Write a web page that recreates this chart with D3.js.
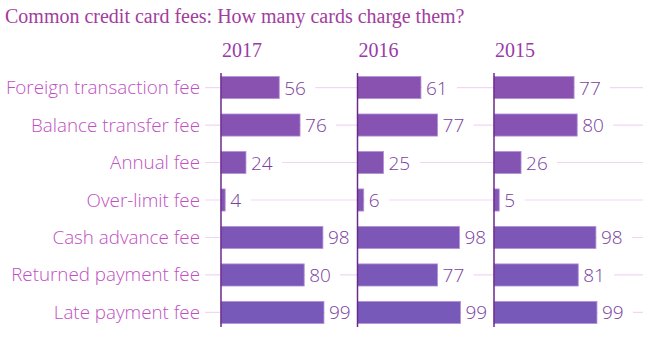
<!DOCTYPE html>
<html><head><meta charset="utf-8">
<script src="https://cdn.jsdelivr.net/npm/d3@7"></script>
<style>body{margin:0;background:#fff}svg{display:block}</style>
</head><body>
<script>
const title = "Common credit card fees: How many cards charge them?";
const categories = ["Foreign transaction fee","Balance transfer fee","Annual fee","Over-limit fee","Cash advance fee","Returned payment fee","Late payment fee"];
const years = ["2017","2016","2015"];
const values2017 = [56,76,24,4,98,80,99];
const values2016 = [61,77,25,6,98,77,99];
const values2015 = [77,80,26,5,98,81,99];
const seriesValues = [values2017, values2016, values2015];

const W = 650, H = 338;
const svg = d3.select("body").append("svg").attr("width", W).attr("height", H);

const y = d3.scaleBand().domain(categories).range([69, 331]).paddingInner(0.41).paddingOuter(0.2);
const panelX = d3.scalePoint().domain(years).range([221, 494]);
const x = d3.scaleLinear().domain([0, 100]).range([0, 104]);
const color = d3.scaleLinear().domain([0, categories.length - 1]).range(["#8a52b0", "#7759ba"]);

svg.append("text").attr("x", 5).attr("y", 23)
  .attr("font-family", "Liberation Serif, Times New Roman, serif")
  .attr("font-size", 20).attr("fill", "#a23c9e").text(title);

// gridlines
svg.append("g").selectAll("line").data(categories).join("line")
  .attr("x1", 205).attr("x2", 643)
  .attr("y1", d => y(d) + y.bandwidth() / 2).attr("y2", d => y(d) + y.bandwidth() / 2)
  .attr("stroke", "#f1d6f3").attr("stroke-width", 1.2);

// category labels
svg.append("g").selectAll("text").data(categories).join("text")
  .attr("x", 200).attr("y", d => y(d) + y.bandwidth() / 2 + 6.5)
  .attr("text-anchor", "end")
  .attr("font-family", "Open Sans, sans-serif").attr("font-size", 18.8).attr("font-weight", 300)
  .attr("fill", "#c050c2").text(d => d);

years.forEach((yr, i) => {
  const g = svg.append("g").attr("transform", `translate(${panelX(yr)},0)`);
  const vals = seriesValues[i];
  g.append("text").attr("x", 1).attr("y", 57)
    .attr("font-family", "Liberation Serif, Times New Roman, serif")
    .attr("font-size", 20).attr("fill", "#9a3aa8").text(yr);
  const lab = g.append("g").selectAll("g").data(categories).join("g");
  lab.append("rect")
    .attr("x", (d, j) => x(vals[j]) + 1)
    .attr("y", d => y(d) + 2)
    .attr("width", (d, j) => String(vals[j]).length * 10.5 + 14)
    .attr("height", y.bandwidth() - 4)
    .attr("fill", "#fff");
  g.append("g").selectAll("rect").data(categories).join("rect")
    .attr("x", 0).attr("y", d => y(d))
    .attr("width", (d, j) => x(vals[j])).attr("height", y.bandwidth())
    .attr("fill", (d, j) => color(j))
    .attr("stroke", "#b690d6").attr("stroke-width", 0.8);
  lab.append("text")
    .attr("x", (d, j) => x(vals[j]) + 5)
    .attr("y", d => y(d) + y.bandwidth() / 2 + 7)
    .attr("font-family", "Open Sans, sans-serif").attr("font-size", 19).attr("font-weight", 300)
    .attr("fill", "#7a3fa0").text((d, j) => vals[j]);
  g.append("line").attr("x1", 0).attr("x2", 0).attr("y1", 73).attr("y2", 327)
    .attr("stroke", "#6a2a8a").attr("stroke-width", 1.5);
});
</script>
</body></html>
